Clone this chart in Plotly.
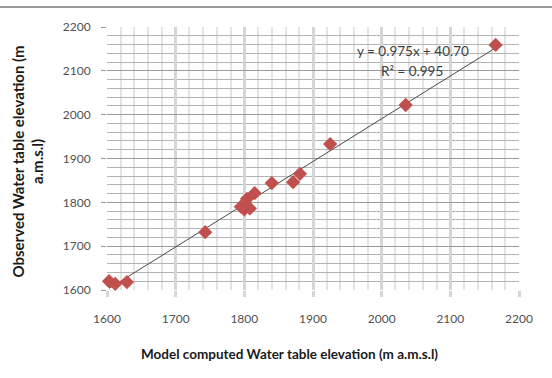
import plotly.graph_objects as go

# Data
model_x = [1603, 1612, 1629, 1743, 1795, 1800, 1808, 1804, 1815, 1840, 1871, 1881, 1925, 2035, 2166]
observed_y = [1620, 1614, 1618, 1732, 1790, 1784, 1786, 1808, 1821, 1844, 1846, 1865, 1933, 2022, 2159]
tick_vals = [1600, 1700, 1800, 1900, 2000, 2100, 2200]
slope = 0.975
intercept = 40.70
equation_text = "y = 0.975x + 40.70"
r2_text = "R² = 0.995"
x_title = "<b>Model computed Water table elevation (m a.m.s.l)</b>"
y_title = "<b>Observed Water table elevation (m<br>a.m.s.l)</b>"

trend_x = [min(model_x), max(model_x)]
trend_y = [slope * v + intercept for v in trend_x]

FONT = "Lato"
fig = go.Figure()
fig.add_trace(go.Scatter(x=trend_x, y=trend_y, mode="lines",
                         line=dict(color="#4a4a4a", width=1), hoverinfo="skip"))
fig.add_trace(go.Scatter(x=model_x, y=observed_y, mode="markers",
                         marker=dict(symbol="diamond", size=11, color="#C0504D",
                                     line=dict(width=0)),
                         cliponaxis=False))

fig.update_layout(
    width=552, height=378,
    margin=dict(l=107, r=33, t=27, b=88),
    paper_bgcolor="white", plot_bgcolor="white",
    showlegend=False,
    font=dict(family=FONT, size=12, color="#505050"),
)
fig.update_xaxes(
    range=[1600, 2200], tickvals=tick_vals, showline=False, zeroline=False,
    showgrid=True, gridcolor="#d6d6d6", gridwidth=2.5,
    minor=dict(dtick=20, tick0=1600, showgrid=True, gridcolor="#e4e4e4", gridwidth=2),
    ticks="outside", ticklen=6, tickcolor="#d6d6d6", tickwidth=2.5,
    ticklabelstandoff=12,
)
fig.update_yaxes(
    range=[1600, 2200], tickvals=tick_vals, showline=False, zeroline=False,
    showgrid=True, gridcolor="#9a9a9a", gridwidth=1,
    minor=dict(dtick=20, tick0=1600, showgrid=True, gridcolor="#b4b4b4", gridwidth=1),
    ticks="outside", ticklen=5, tickcolor="#9a9a9a",
    ticklabelstandoff=8,
)
fig.add_annotation(text=x_title, xref="paper", yref="paper", x=0.442, y=0,
                   yshift=-64, showarrow=False, xanchor="center", yanchor="middle",
                   font=dict(size=13.5, color="#1a1a1a", family=FONT))
fig.add_annotation(text=y_title,
                   xref="paper", yref="paper", x=0, y=0.5, xshift=-80, yshift=-3,
                   textangle=-90, showarrow=False, xanchor="center", yanchor="middle",
                   font=dict(size=15, color="#1a1a1a", family=FONT))
fig.add_annotation(text=equation_text, x=2045, y=2146, xref="x", yref="y",
                   showarrow=False, font=dict(size=13.5, color="#404040"))
fig.add_annotation(text=r2_text, x=2044, y=2100, xref="x", yref="y",
                   showarrow=False, font=dict(size=13.5, color="#404040"))
fig.add_shape(type="line", xref="paper", yref="paper",
              x0=-0.27, x1=1.09, y0=1.076, y1=1.076,
              line=dict(color="#9a9a9a", width=2))

fig.write_html("out.html")
